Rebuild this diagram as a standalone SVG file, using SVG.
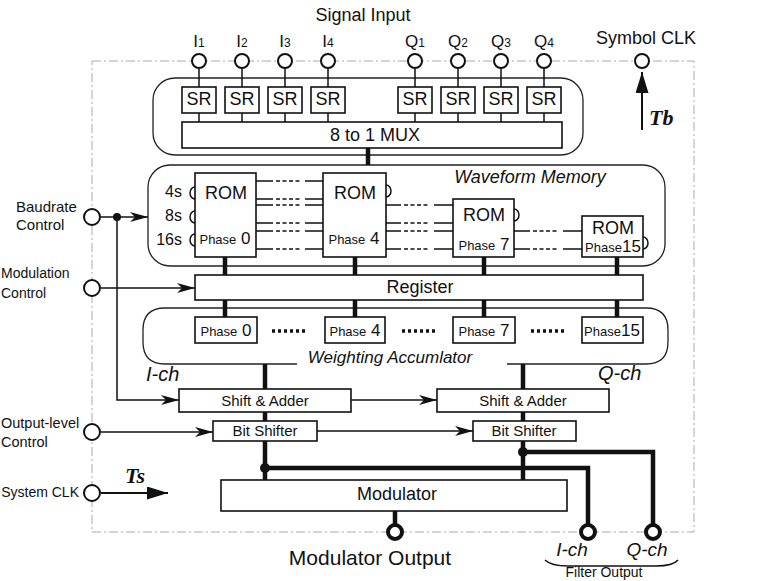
<svg xmlns="http://www.w3.org/2000/svg" width="766" height="581" viewBox="0 0 766 581">
<defs>
<style>
text{font-family:"Liberation Sans",Arial,sans-serif;fill:#111}
.box{fill:#fff;stroke:#111;stroke-width:1.6}
.grp{fill:none;stroke:#222;stroke-width:1.3}
.ln{fill:none;stroke:#111;stroke-width:1.5}
.thk{fill:none;stroke:#111;stroke-width:4.5}
.dash{fill:none;stroke:#111;stroke-width:1.5;stroke-dasharray:4 2.5}
.dots{fill:none;stroke:#111;stroke-width:3.5;stroke-dasharray:3 3}
.port{fill:#fff;stroke:#111;stroke-width:2}
.oport{fill:#fff;stroke:#111;stroke-width:4}
.frame{fill:none;stroke:#aaa;stroke-width:1;stroke-dasharray:9 3 2 3}
.it{font-style:italic}
.tb{font-family:"Liberation Serif","Times New Roman",serif;font-weight:bold;font-style:italic;font-size:22px}
.m{text-anchor:middle}
</style>
<marker id="barb" markerUnits="userSpaceOnUse" markerWidth="20" markerHeight="12" refX="18" refY="5" orient="auto"><path d="M0,0 L18,5 L0,10 L5,5 z" fill="#111"/></marker>
<marker id="tri" markerUnits="userSpaceOnUse" markerWidth="22" markerHeight="14" refX="21" refY="6.5" orient="auto"><path d="M0,0 L21,6.5 L0,13 z" fill="#111"/></marker>
</defs>
<rect x="0" y="0" width="766" height="581" fill="#fff"/>
<rect class="frame" x="92" y="61" width="602" height="471"/>

<g id="groups">
<rect class="grp" x="153" y="78" width="430" height="77" rx="22"/>
<rect class="grp" x="148" y="165" width="517" height="101" rx="22"/>
<path class="grp" d="M297,364 L165,364 Q143,364 143,342 L143,330 Q143,308 165,308 L646,308 Q668,308 668,330 L668,342 Q668,364 646,364 L507,364"/>
<text class="it m" x="530" y="183" font-size="18">Waveform Memory</text>
<text class="it m" x="390" y="363" font-size="17">Weighting Accumlator</text>
</g>

<g id="connectors">
<path class="ln" d="M199,68V87M242,68V87M285,68V87M328,68V87M415,68V87M458,68V87M501,68V87M544,68V87"/>
<path class="ln" d="M199,113V122M242,113V122M285,113V122M328,113V122M415,113V122M458,113V122M501,113V122M544,113V122"/>
<path class="thk" d="M368,148V165"/>
<path class="ln" d="M256,181H273M256,199H273M256,205H273M256,223H273M256,231H273M256,249H273M305,181H323M305,199H323M305,205H323M305,223H323M305,231H323M305,249H323"/>
<path class="dash" d="M276,181H301M276,199H301M276,205H301M276,223H301M276,231H301M276,249H301"/>
<path class="ln" d="M386,205H401M386,223H401M386,231H401M386,249H401M434,205H453M434,223H453M434,231H453M434,249H453"/>
<path class="dash" d="M404,205H430M404,223H430M404,231H430M404,249H430"/>
<path class="ln" d="M514,231H530M514,249H530M563,231H582M563,249H582"/>
<path class="dash" d="M533,231H559M533,249H559"/>
<path class="thk" d="M225,257V275M355,257V275M484,257V275M617,257V275"/>
<path class="thk" d="M225,300V317M355,300V317M484,300V317M617,300V317"/>
<path class="dots" d="M272,331H306M402,331H436M531,331H565"/>
<path class="thk" d="M265,364V389M523,364V389M265,412V421M523,412V421M265,441V480M523,441V480"/>
<path class="thk" d="M265,468H588V524M523,452H653V524M395,511V524"/>
<circle cx="265" cy="468" r="5" fill="#111"/>
<circle cx="523" cy="452" r="5" fill="#111"/>
<path class="ln" d="M101,217H148" marker-end="url(#barb)"/>
<path class="ln" d="M117,217V400H179" marker-end="url(#barb)"/>
<circle cx="117" cy="217" r="4" fill="#111"/>
<path class="ln" d="M101,288H195" marker-end="url(#barb)"/>
<path class="ln" d="M101,432H213" marker-end="url(#barb)"/>
<path class="ln" d="M351,400H437" marker-end="url(#barb)"/>
<path class="ln" d="M317,431H473" marker-end="url(#barb)"/>
<path d="M101,493H168" stroke="#111" stroke-width="2" marker-end="url(#tri)"/>
<path d="M642,130V72" stroke="#111" stroke-width="2" marker-end="url(#tri)"/>
</g>

<g id="signal-input">
<text class="m" x="363" y="21" font-size="18">Signal Input</text>
<g font-size="17">
<text class="m" x="199" y="47">I<tspan font-size="12">1</tspan></text>
<text class="m" x="242" y="47">I<tspan font-size="12">2</tspan></text>
<text class="m" x="285" y="47">I<tspan font-size="12">3</tspan></text>
<text class="m" x="328" y="47">I<tspan font-size="12">4</tspan></text>
<text class="m" x="415" y="47">Q<tspan font-size="12">1</tspan></text>
<text class="m" x="458" y="47">Q<tspan font-size="12">2</tspan></text>
<text class="m" x="501" y="47">Q<tspan font-size="12">3</tspan></text>
<text class="m" x="544" y="47">Q<tspan font-size="12">4</tspan></text>
</g>
<circle class="port" cx="199" cy="61" r="7"/>
<circle class="port" cx="242" cy="61" r="7"/>
<circle class="port" cx="285" cy="61" r="7"/>
<circle class="port" cx="328" cy="61" r="7"/>
<circle class="port" cx="415" cy="61" r="7"/>
<circle class="port" cx="458" cy="61" r="7"/>
<circle class="port" cx="501" cy="61" r="7"/>
<circle class="port" cx="544" cy="61" r="7"/>
</g>

<g id="symbol-clk">
<text class="m" x="646" y="44" font-size="18">Symbol CLK</text>
<circle class="port" cx="642" cy="61" r="7"/>
<text class="tb" x="649" y="125">Tb</text>
</g>

<g id="sr-registers" font-size="18">
<rect class="box" x="182" y="87" width="34" height="26"/><text class="m" x="199" y="105">SR</text>
<rect class="box" x="225" y="87" width="34" height="26"/><text class="m" x="242" y="105">SR</text>
<rect class="box" x="268" y="87" width="34" height="26"/><text class="m" x="285" y="105">SR</text>
<rect class="box" x="311" y="87" width="34" height="26"/><text class="m" x="328" y="105">SR</text>
<rect class="box" x="398" y="87" width="34" height="26"/><text class="m" x="415" y="105">SR</text>
<rect class="box" x="441" y="87" width="34" height="26"/><text class="m" x="458" y="105">SR</text>
<rect class="box" x="484" y="87" width="34" height="26"/><text class="m" x="501" y="105">SR</text>
<rect class="box" x="527" y="87" width="34" height="26"/><text class="m" x="544" y="105">SR</text>
</g>

<g id="mux">
<rect class="box" x="182" y="122" width="380" height="26"/>
<text class="m" x="375" y="141" font-size="18">8 to 1 MUX</text>
</g>

<g id="rom0">
<rect class="box" x="195" y="173" width="61" height="84"/>
<path class="ln" d="M195,187A5,6 0 0 0 195,199M195,211A5,6 0 0 0 195,223M195,234A5,6 0 0 0 195,246"/>
<text class="m" x="226" y="199" font-size="18">ROM</text>
<text class="m" x="225" y="244"><tspan font-size="13">Phase</tspan><tspan font-size="17"> 0</tspan></text>
<g font-size="16" text-anchor="end"><text x="182" y="197">4s</text><text x="182" y="221">8s</text><text x="182" y="245">16s</text></g>
</g>
<g id="rom4">
<rect class="box" x="323" y="173" width="63" height="84"/>
<path class="ln" d="M386,185A5,6 0 0 1 386,197"/>
<text class="m" x="355" y="199" font-size="18">ROM</text>
<text class="m" x="354" y="244"><tspan font-size="13">Phase</tspan><tspan font-size="17"> 4</tspan></text>
</g>
<g id="rom7">
<rect class="box" x="453" y="199" width="61" height="58"/>
<path class="ln" d="M514,209A5,6 0 0 1 514,221"/>
<text class="m" x="484" y="221" font-size="18">ROM</text>
<text class="m" x="484" y="250"><tspan font-size="13">Phase</tspan><tspan font-size="17"> 7</tspan></text>
</g>
<g id="rom15">
<rect class="box" x="582" y="216" width="61" height="41"/>
<path class="ln" d="M643,237A5,6 0 0 1 643,249"/>
<text class="m" x="613" y="234" font-size="18">ROM</text>
<text class="m" x="613" y="252"><tspan font-size="13">Phase</tspan><tspan font-size="17">15</tspan></text>
</g>

<g id="register">
<rect class="box" x="195" y="275" width="448" height="25"/>
<text class="m" x="420" y="293" font-size="18">Register</text>
</g>

<g id="acc-phases">
<rect class="box" x="195" y="317" width="62" height="26"/>
<text class="m" x="226" y="336"><tspan font-size="13">Phase</tspan><tspan font-size="17"> 0</tspan></text>
<rect class="box" x="325" y="317" width="60" height="26"/>
<text class="m" x="355" y="336"><tspan font-size="13">Phase</tspan><tspan font-size="17"> 4</tspan></text>
<rect class="box" x="453" y="317" width="62" height="26"/>
<text class="m" x="484" y="336"><tspan font-size="13">Phase</tspan><tspan font-size="17"> 7</tspan></text>
<rect class="box" x="582" y="317" width="61" height="26"/>
<text class="m" x="612" y="336"><tspan font-size="13">Phase</tspan><tspan font-size="17">15</tspan></text>
</g>

<g id="ich-chain">
<text class="it" x="146" y="381" font-size="20">I-ch</text>
<rect class="box" x="179" y="389" width="172" height="23"/>
<text class="m" x="265" y="406" font-size="15">Shift &amp; Adder</text>
<rect class="box" x="213" y="421" width="104" height="20"/>
<text class="m" x="265" y="436" font-size="15">Bit Shifter</text>
</g>
<g id="qch-chain">
<text class="it" x="598" y="380" font-size="20">Q-ch</text>
<rect class="box" x="437" y="389" width="172" height="23"/>
<text class="m" x="523" y="406" font-size="15">Shift &amp; Adder</text>
<rect class="box" x="473" y="421" width="103" height="20"/>
<text class="m" x="524" y="436" font-size="15">Bit Shifter</text>
</g>

<g id="modulator">
<rect class="box" x="221" y="480" width="346" height="31"/>
<text class="m" x="397" y="500" font-size="18">Modulator</text>
</g>

<g id="controls" font-size="15">
<text x="16" y="212">Baudrate</text><text x="16" y="230">Control</text>
<circle class="port" cx="92" cy="217" r="8"/>
<text x="1" y="278" font-size="14">Modulation</text><text x="1" y="298" font-size="14">Control</text>
<circle class="port" cx="92" cy="288" r="8"/>
<text x="1" y="428" font-size="14.5">Output-level</text><text x="1" y="447" font-size="14.5">Control</text>
<circle class="port" cx="92" cy="432" r="8"/>
<text x="79" y="497" text-anchor="end" font-size="14">System CLK</text>
<circle class="port" cx="92" cy="493" r="8" stroke-width="2.5"/>
<text class="tb" x="125" y="483">Ts</text>
</g>

<g id="outputs">
<circle class="oport" cx="395" cy="532" r="7"/>
<text class="m" x="370" y="565" font-size="21">Modulator Output</text>
<circle class="oport" cx="588" cy="532" r="7"/>
<circle class="oport" cx="653" cy="532" r="7"/>
<text class="it m" x="572" y="556" font-size="19">I-ch</text>
<text class="it m" x="647" y="556" font-size="19">Q-ch</text>
<path class="ln" d="M545,560Q551,566 568,566L656,566Q673,566 678,560"/>
<text class="m" x="604" y="577" font-size="14">Filter Output</text>
</g>
</svg>
